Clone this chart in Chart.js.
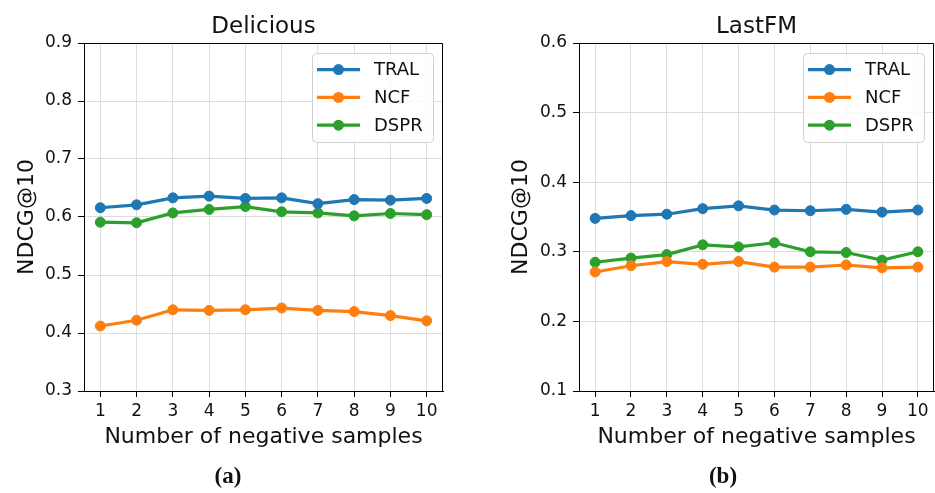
<!DOCTYPE html>
<html>
<head>
<meta charset="utf-8">
<script src="https://cdn.jsdelivr.net/npm/chart.js@4.4.1/dist/chart.umd.min.js"></script>
<style>
html, body { margin: 0; padding: 0; background: #fff; overflow: hidden; width: 935px; height: 493px; }
#wrap { position: relative; width: 935px; height: 493px; overflow: hidden; }
canvas { position: absolute; top: 0; }
.cap { position: absolute; top: 463px; font: bold 23px "Liberation Serif", "DejaVu Serif", serif; transform: translateX(-50%); color: #111; }
</style>
</head>
<body>
<div id="wrap">
<canvas id="chartDelicious" width="470" height="493" style="left:0"></canvas>
<canvas id="chartLastfm" width="470" height="493" style="left:470px"></canvas>
<div class="cap" style="left:228px">(a)</div>
<div class="cap" style="left:723px">(b)</div>
</div>
<script>
const negSamples = [1, 2, 3, 4, 5, 6, 7, 8, 9, 10]
const seriesNames = ['TRAL', 'NCF', 'DSPR']
const seriesColors = ['#1f77b4', '#ff7f0e', '#2ca02c']

const deliciousTral = [0.616, 0.621, 0.633, 0.636, 0.632, 0.633, 0.623, 0.630, 0.629, 0.632]
const deliciousNcf = [0.412, 0.422, 0.440, 0.439, 0.440, 0.443, 0.439, 0.437, 0.430, 0.421]
const deliciousDspr = [0.591, 0.590, 0.607, 0.613, 0.618, 0.609, 0.607, 0.602, 0.606, 0.604]

const lastfmTral = [0.348, 0.352, 0.354, 0.362, 0.366, 0.360, 0.359, 0.361, 0.357, 0.360]
const lastfmNcf = [0.271, 0.280, 0.286, 0.282, 0.286, 0.278, 0.278, 0.281, 0.277, 0.278]
const lastfmDspr = [0.285, 0.291, 0.296, 0.310, 0.307, 0.313, 0.300, 0.299, 0.288, 0.300]

const fontFamily = '"DejaVu Sans", Verdana, sans-serif'

// spines on top/right, title over plot area, legend box inside plot
const frameAndLegend = {
    id: 'frameAndLegend',
    afterDraw(chart, args, opts) {
        const ctx = chart.ctx
        const a = chart.chartArea
        ctx.save()
        ctx.strokeStyle = '#000'
        ctx.lineWidth = 1
        ctx.beginPath()
        ctx.moveTo(Math.round(a.left) + 0.5, Math.round(a.top) + 0.5)
        ctx.lineTo(Math.round(a.right) - 0.5, Math.round(a.top) + 0.5)
        ctx.lineTo(Math.round(a.right) - 0.5, Math.round(a.bottom) + 0.5)
        ctx.stroke()

        ctx.fillStyle = '#111'
        ctx.font = '23px ' + fontFamily
        ctx.textAlign = 'center'
        ctx.textBaseline = 'alphabetic'
        ctx.fillText(opts.title, (a.left + a.right) / 2, 33)

        const bw = 121, bh = 89
        const bx = a.right - 10 - bw, by = a.top + 10
        ctx.fillStyle = 'rgba(255,255,255,0.8)'
        ctx.strokeStyle = '#d0d0d0'
        ctx.beginPath()
        ctx.roundRect(bx + 0.5, by + 0.5, bw, bh, 4)
        ctx.fill()
        ctx.stroke()

        ctx.font = '18px ' + fontFamily
        ctx.textAlign = 'left'
        ctx.textBaseline = 'middle'
        chart.data.datasets.forEach((ds, i) => {
            const y = by + 16.6 + i * 27.8
            ctx.strokeStyle = ds.borderColor
            ctx.lineWidth = 3.2
            ctx.beginPath()
            ctx.moveTo(bx + 5, y)
            ctx.lineTo(bx + 48, y)
            ctx.stroke()
            ctx.fillStyle = ds.borderColor
            ctx.beginPath()
            ctx.arc(bx + 26.5, y, 5.5, 0, Math.PI * 2)
            ctx.fill()
            ctx.fillStyle = '#111'
            ctx.fillText(ds.label, bx + 62, y + 1)
        })
        ctx.restore()
    }
}

function makeChart(id, title, series, yMin, yMax, yWidth, yTitlePad, padRight) {
    const ctx = document.getElementById(id).getContext('2d')
    return new Chart(ctx, {
        type: 'line',
        data: {
            datasets: series.map((vals, i) => ({
                label: seriesNames[i],
                data: negSamples.map((n, j) => ({ x: n, y: vals[j] })),
                borderColor: seriesColors[i],
                backgroundColor: seriesColors[i],
                pointBackgroundColor: seriesColors[i],
                pointBorderColor: seriesColors[i],
                borderWidth: 3.2,
                pointRadius: 5,
                pointBorderWidth: 1,
                tension: 0
            }))
        },
        options: {
            responsive: false,
            animation: false,
            layout: { padding: { top: 43, right: padRight, bottom: 43, left: 0 } },
            plugins: {
                legend: { display: false },
                tooltip: { enabled: false },
                frameAndLegend: { title: title }
            },
            scales: {
                x: {
                    type: 'linear',
                    min: 0.55,
                    max: 10.45,
                    afterBuildTicks: (s) => { s.ticks = negSamples.map(v => ({ value: v })) },
                    afterFit: (s) => { s.height = 59 },
                    grid: { color: '#dedede', lineWidth: 1, tickColor: '#000', tickLength: 6 },
                    border: { display: true, color: '#000', width: 1 },
                    ticks: { color: '#111', padding: 4, font: { family: fontFamily, size: 17 }, maxRotation: 0, autoSkip: false },
                    title: { display: true, text: 'Number of negative samples', color: '#111', padding: 0, font: { family: fontFamily, size: 22 } }
                },
                y: {
                    min: yMin,
                    max: yMax,
                    afterFit: (s) => { s.width = yWidth },
                    ticks: { stepSize: 0.1, color: '#111', padding: 6, font: { family: fontFamily, size: 17 }, callback: (v) => v.toFixed(1) },
                    grid: { color: '#dedede', lineWidth: 1, tickColor: '#000', tickLength: 6 },
                    border: { display: true, color: '#000', width: 1 },
                    title: { display: true, text: 'NDCG@10', color: '#111', padding: { top: yTitlePad, bottom: 0 }, font: { family: fontFamily, size: 22 } }
                }
            }
        },
        plugins: [frameAndLegend]
    })
}

var chartDelicious = makeChart('chartDelicious', 'Delicious', [deliciousTral, deliciousNcf, deliciousDspr], 0.3, 0.9, 84, 14, 27)
var chartLastfm = makeChart('chartLastfm', 'LastFM', [lastfmTral, lastfmNcf, lastfmDspr], 0.1, 0.6, 109, 38, 3)
</script>
</body>
</html>
